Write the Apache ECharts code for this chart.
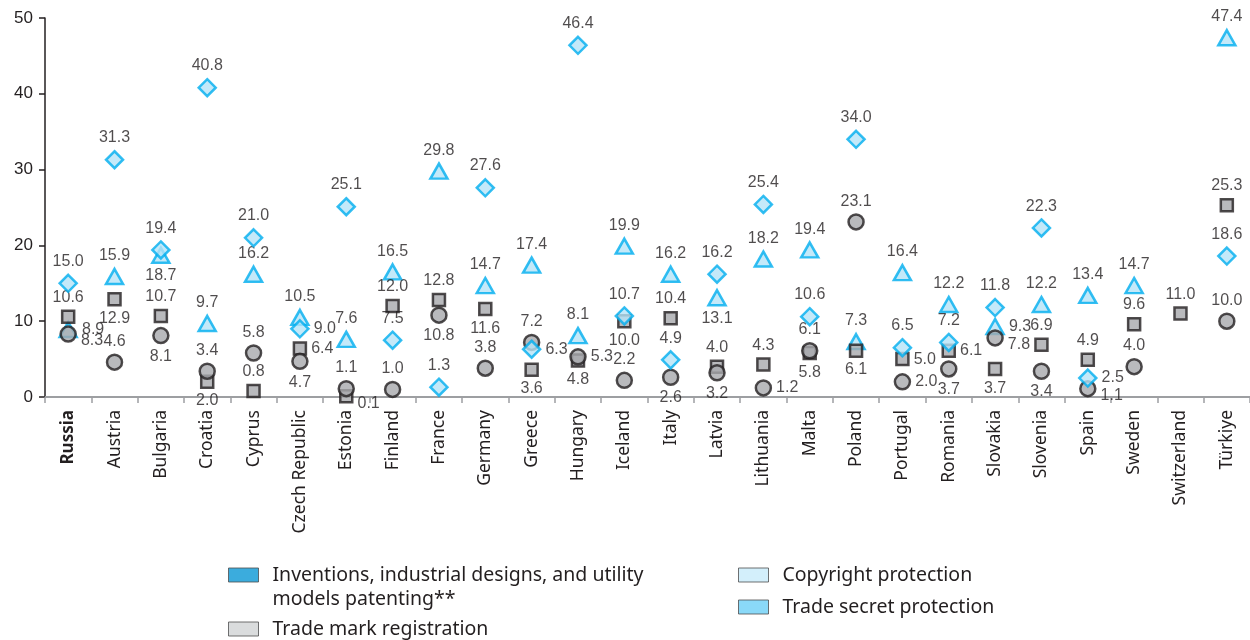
<!DOCTYPE html>
<html>
<head>
<meta charset="utf-8">
<script src="https://cdn.jsdelivr.net/npm/echarts@6/dist/echarts.min.js"></script>
<style>
html,body{margin:0;padding:0;background:#fff;}
#chart{width:1250px;height:640px;}
</style>
</head>
<body>
<div id="chart"></div>
<script>
const categories = ['Russia','Austria','Bulgaria','Croatia','Cyprus','Czech Republic','Estonia','Finland','France','Germany','Greece','Hungary','Iceland','Italy','Latvia','Lithuania','Malta','Poland','Portugal','Romania','Slovakia','Slovenia','Spain','Sweden','Switzerland','Türkiye'];

const seriesNames = [
  'Inventions, industrial designs, and utility models patenting**',
  'Trade mark registration',
  'Copyright protection',
  'Trade secret protection'
];

// diamond markers
const inventions = [15.0,31.3,19.4,40.8,21.0,9.0,25.1,7.5,1.3,27.6,6.3,46.4,10.7,4.9,16.2,25.4,10.6,34.0,6.5,7.2,11.8,22.3,2.5,null,null,18.6];
// triangle markers
const tradeSecret = [8.9,15.9,18.7,9.7,16.2,10.5,7.6,16.5,29.8,14.7,17.4,8.1,19.9,16.2,13.1,18.2,19.4,7.3,16.4,12.2,9.3,12.2,13.4,14.7,null,47.4];
// square markers
const tradeMark = [10.6,12.9,10.7,2.0,0.8,6.4,0.1,12.0,12.8,11.6,3.6,4.8,10.0,10.4,4.0,4.3,5.8,6.1,5.0,6.1,3.7,6.9,4.9,9.6,11.0,25.3];
// circle markers
const copyright = [8.3,4.6,8.1,3.4,5.8,4.7,1.1,1.0,10.8,3.8,7.2,5.3,2.2,2.6,3.2,1.2,6.1,23.1,2.0,3.7,7.8,3.4,1.1,4.0,null,10.0];

// label placement codes (t = top, b = bottom, r = right, rb = right, lowered)
const inventionsPos = ['t','t','t','t','t','r','t','t','t','t','r','t','t','t','t','t','t','t','t','t','t','t','r','t','t','t'];
const tradeSecretPos = ['r','t','b','t','t','t','t','t','t','t','t','t','t','t','b','t','t','t','t','t','r','t','t','t','t','t'];
const tradeMarkPos = ['t','b','t','b','t','r','rb','t','t','b','b','b','b','t','t','t','b','b','r','r','b','t','t','t','t','t'];
const copyrightPos = ['rb','t','b','t','t','b','t','t','b','t','t','r','t','b','b','r','t','t','r','b','rb','b','rb','t','t','t'];

const yTicks = {min: 0, max: 50, interval: 10};

const posMap = {
  t: {position: 'top'},
  b: {position: 'bottom'},
  r: {position: 'right'},
  rb: {position: 'right', offset: [0, 7]}
};

function buildData(vals, pos) {
  return vals.map((v, i) => {
    if (v == null) return '-';
    return {value: v, label: Object.assign({}, posMap[pos[i]])};
  });
}

const numFont = '"Liberation Sans", Arial, sans-serif';
const textFont = '"Noto Sans", "Open Sans", sans-serif';

const labelStyle = {
  show: true,
  fontFamily: numFont,
  fontSize: 16,
  color: '#231f20',
  distance: 4,
  formatter: p => Number(p.value).toFixed(1)
};

const blueMarker = {color: '#b5e3f8', borderColor: '#00aeef', borderWidth: 2.5};
const greyMarker = {color: '#a7a9ac', borderColor: '#231f20', borderWidth: 2.5};

const legendColors = ['#0a97d5', '#d1d3d4', '#c8ebfa', '#6dcff6'];

const chart = echarts.init(document.getElementById('chart'), null, {renderer: 'canvas'});

function makeLegend(idx, left, top, multi) {
  return {
    data: [{name: seriesNames[idx], icon: 'rect', itemStyle: {color: legendColors[idx], borderColor: '#4d4d4f', borderWidth: 1}}],
    left: left,
    top: top,
    padding: 0,
    orient: 'vertical',
    itemWidth: 30,
    itemHeight: 14,
    selectedMode: false,
    formatter: multi ? () => '\nInventions, industrial designs, and utility\nmodels patenting**' : undefined,
    textStyle: {
      fontFamily: textFont,
      fontSize: 19.5,
      color: '#231f20',
      lineHeight: 24,
      padding: [0, 0, 0, 9]
    }
  };
}

const option = {
  backgroundColor: '#ffffff',
  animation: false,
  grid: {left: 45, right: -5, top: 18, bottom: 243, containLabel: false},
  legend: [
    makeLegend(0, 228, 539, true),
    makeLegend(1, 228, 617, false),
    makeLegend(2, 738, 563, false),
    makeLegend(3, 738, 595, false)
  ],
  xAxis: {
    type: 'category',
    data: categories,
    boundaryGap: true,
    axisLine: {lineStyle: {color: '#9d9fa2', width: 2}},
    axisTick: {show: true, length: 6, interval: 0, lineStyle: {color: '#9d9fa2', width: 1.5}},
    splitLine: {show: false},
    axisLabel: {
      interval: 0,
      rotate: 90,
      margin: 13,
      fontFamily: textFont,
      fontSize: 17.5,
      color: '#231f20',
      formatter: v => v === 'Russia' ? '{b|' + v + '}' : v,
      rich: {b: {fontWeight: 'bold', fontFamily: textFont, fontSize: 17, color: '#231f20'}}
    }
  },
  yAxis: {
    type: 'value',
    min: yTicks.min,
    max: yTicks.max,
    interval: yTicks.interval,
    axisLine: {show: true, lineStyle: {color: '#231f20', width: 1.5}},
    axisTick: {show: true, length: 6, lineStyle: {color: '#231f20', width: 1.5}},
    splitLine: {show: false},
    axisLabel: {
      margin: 12,
      fontFamily: numFont,
      fontSize: 17,
      color: '#231f20'
    }
  },
  series: [
    {
      name: seriesNames[3], type: 'scatter', symbol: 'triangle', symbolSize: [17, 15],
      itemStyle: blueMarker, label: labelStyle, z: 2,
      data: buildData(tradeSecret, tradeSecretPos)
    },
    {
      name: seriesNames[1], type: 'scatter', symbol: 'rect', symbolSize: 12,
      itemStyle: greyMarker, label: labelStyle, z: 3,
      data: buildData(tradeMark, tradeMarkPos)
    },
    {
      name: seriesNames[2], type: 'scatter', symbol: 'circle', symbolSize: 15,
      itemStyle: greyMarker, label: labelStyle, z: 4,
      data: buildData(copyright, copyrightPos)
    },
    {
      name: seriesNames[0], type: 'scatter', symbol: 'diamond', symbolSize: 17,
      itemStyle: blueMarker, label: labelStyle, z: 5,
      data: buildData(inventions, inventionsPos)
    }
  ]
};

chart.setOption(option);
</script>
</body>
</html>
